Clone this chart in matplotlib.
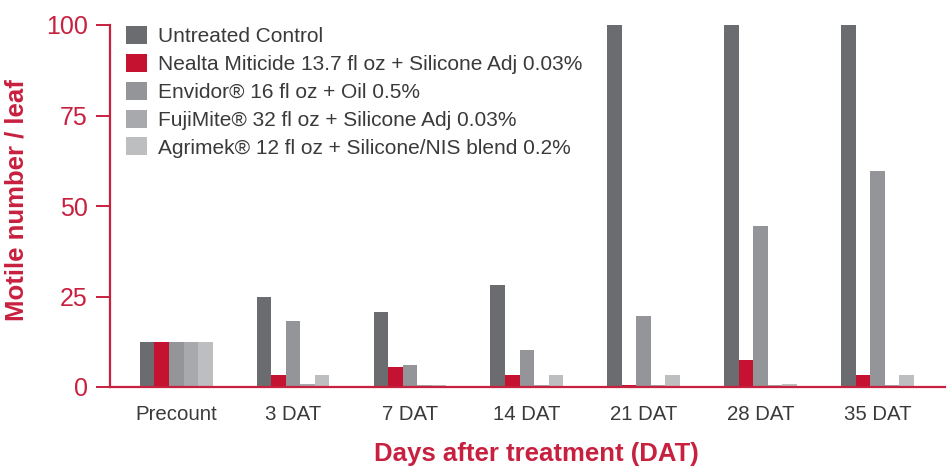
import matplotlib
matplotlib.use("Agg")
import matplotlib.pyplot as plt
import numpy as np

categories = ["Precount", "3 DAT", "7 DAT", "14 DAT", "21 DAT", "28 DAT", "35 DAT"]
series_names = [
    "Untreated Control",
    "Nealta Miticide 13.7 fl oz + Silicone Adj 0.03%",
    "Envidor\u00ae 16 fl oz + Oil 0.5%",
    "FujiMite\u00ae 32 fl oz + Silicone Adj 0.03%",
    "Agrimek\u00ae 12 fl oz + Silicone/NIS blend 0.2%",
]
untreated = [12.5, 25.0, 20.8, 28.2, 100, 100, 100]
nealta = [12.5, 3.3, 5.6, 3.3, 0.6, 7.5, 3.3]
envidor = [12.5, 18.3, 6.2, 10.3, 19.6, 44.5, 59.6]
fujimite = [12.5, 0.9, 0.6, 0.6, 0.6, 0.6, 0.6]
agrimek = [12.5, 3.3, 0.6, 3.3, 3.3, 0.9, 3.3]
yticks = [0, 25, 50, 75, 100]

colors = ["#6b6c70", "#c41230", "#939598", "#a7a9ac", "#bcbec0"]
red = "#c8203f"
textfam = ["Liberation Sans", "DejaVu Sans"]

fig = plt.figure(figsize=(9.48, 4.66), dpi=100)
ax = fig.add_axes([110 / 948, 1 - 387 / 466, 1 - 110 / 948 - 0.003, (387 - 25) / 466])

x = np.arange(len(categories))
w = 0.1245
data = [untreated, nealta, envidor, fujimite, agrimek]
handles = []
for i, (vals, c, name) in enumerate(zip(data, colors, series_names)):
    b = ax.bar(x + (i - 2) * w, vals, width=w, color=c, label=name, linewidth=0)
    handles.append(b)

ax.set_xlim(-0.567, 6.58)
ax.set_ylim(0, 100)
ax.set_yticks(yticks)
ax.set_xticks(x)
ax.set_xticklabels(categories)

for s in ["top", "right"]:
    ax.spines[s].set_visible(False)
for s in ["left", "bottom"]:
    ax.spines[s].set_color(red)
    ax.spines[s].set_linewidth(1.6)

ax.tick_params(axis="y", direction="out", length=10, width=1.4, color=red,
               labelcolor=red, labelsize=18, pad=6)
ax.tick_params(axis="x", length=0, labelcolor="#3a3a3a", labelsize=14.7, pad=13)
for lab in ax.get_yticklabels() + ax.get_xticklabels():
    lab.set_fontfamily(textfam)

ax.set_ylabel("Motile number / leaf", color=red, fontsize=18.5, fontweight="bold",
              family=textfam)
ax.yaxis.set_label_coords(-0.0975, 0.517)
ax.set_xlabel("Days after treatment (DAT)", color=red, fontsize=18.5, fontweight="bold",
              family=textfam)
ax.xaxis.set_label_coords(0.51, -0.152)

leg = fig.legend(handles=handles, loc="upper left", bbox_to_anchor=(126 / 948, 1 - 26 / 466),
                 frameon=False, borderpad=0, borderaxespad=0, handlelength=1.0,
                 handleheight=0.95, handletextpad=0.54, labelspacing=0.37,
                 prop=dict(family=textfam, size=15))
for t in leg.get_texts():
    t.set_color("#3a3a3a")

fig.savefig("out.png", dpi=100)
